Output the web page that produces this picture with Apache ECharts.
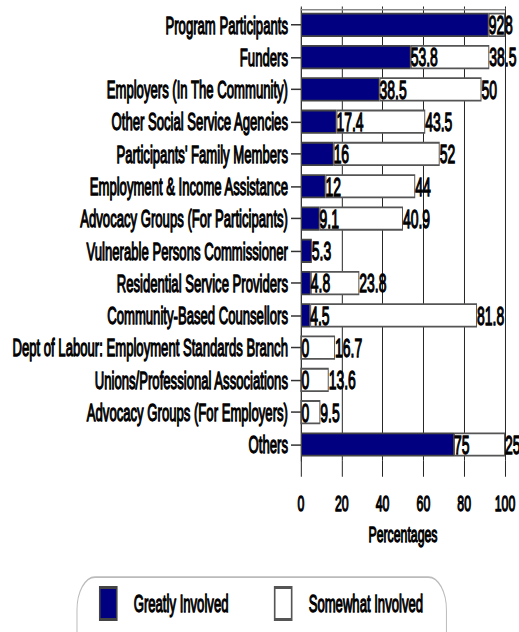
<!DOCTYPE html>
<html>
<head>
<meta charset="utf-8">
<script src="https://cdn.jsdelivr.net/npm/echarts@6/dist/echarts.min.js"></script>
<style>
  html, body { margin: 0; padding: 0; background: #fff; overflow: hidden; }
  #wrap { width: 519px; height: 632px; overflow: hidden; }
  /* laid out on a wider, shorter box, then squeezed horizontally and stretched vertically
     so the lettering comes out tall and condensed */
  #chart { width: 633px; height: 421px; transform-origin: 0 0; transform: scale(0.81991, 1.50119); }
</style>
</head>
<body>
<div id="wrap"><div id="chart"></div></div>
<script>
const categories = [
  'Program Participants',
  'Funders',
  'Employers (In The Community)',
  'Other Social Service Agencies',
  "Participants' Family Members",
  'Employment & Income Assistance',
  'Advocacy Groups (For Participants)',
  'Vulnerable Persons Commissioner',
  'Residential Service Providers',
  'Community-Based Counsellors',
  'Dept of Labour: Employment Standards Branch',
  'Unions/Professional Associations',
  'Advocacy Groups (For Employers)',
  'Others'
];
const greatlyInvolved = [92, 53.8, 38.5, 17.4, 16, 12, 9.1, 5.3, 4.8, 4.5, 0, 0, 0, 75];
const somewhatInvolved = [8, 38.5, 50, 43.5, 52, 44, 40.9, null, 23.8, 81.8, 16.7, 13.6, 9.5, 25];
const xTicks = [0, 20, 40, 60, 80, 100];

const FONT = "'Liberation Sans', Arial, sans-serif";
const heavy = { textBorderColor: '#000', textBorderWidth: 0.85 };

const chart = echarts.init(document.getElementById('chart'), null, { renderer: 'svg' });

const valueLabel = Object.assign({
  show: true,
  position: 'right',
  distance: 0,
  color: '#000',
  fontFamily: FONT,
  fontSize: 17,
  formatter: p => (p.value === null || p.value === undefined) ? '' : String(p.value)
}, heavy);

chart.setOption({
  animation: false,
  backgroundColor: '#fff',
  textStyle: { fontFamily: FONT },
  grid: { left: 367.1, right: 17.1, top: 5.8, bottom: 114.15, containLabel: false, outerBoundsMode: 'none' },
  xAxis: [
    {
      type: 'value',
      position: 'bottom',
      min: xTicks[0],
      max: xTicks[xTicks.length - 1],
      interval: 20,
      name: 'Percentages',
      nameLocation: 'middle',
      nameGap: 40,
      nameTextStyle: Object.assign({ color: '#000', fontFamily: FONT, fontSize: 15 }, heavy),
      axisLine: { show: true, lineStyle: { color: 'rgba(0,0,0,0)' } },
      axisTick: { show: true, length: 10.7, lineStyle: { color: '#222', width: 1.2 } },
      axisLabel: Object.assign({ color: '#000', fontFamily: FONT, fontSize: 15, margin: 21 }, heavy),
      splitLine: { show: true, lineStyle: { color: '#222', width: 1.2 } }
    },
    {
      type: 'value',
      position: 'top',
      min: xTicks[0],
      max: xTicks[xTicks.length - 1],
      interval: 20,
      axisLine: { show: true, lineStyle: { color: '#888', width: 1 } },
      axisTick: { show: true, length: 1.5, lineStyle: { color: '#222', width: 1.2 } },
      axisLabel: { show: false },
      splitLine: { show: false }
    }
  ],
  yAxis: {
    type: 'category',
    data: categories,
    inverse: true,
    axisLine: { show: true, lineStyle: { color: '#333', width: 1.2 } },
    axisTick: { show: true, length: 12.2, alignWithLabel: true, lineStyle: { color: '#333' } },
    axisLabel: Object.assign({ color: '#000', fontFamily: FONT, fontSize: 16, margin: 15.9 }, heavy),
    splitLine: { show: false }
  },
  legend: {
    left: 93.9,
    top: 384.4,
    orient: 'horizontal',
    icon: 'rect',
    itemWidth: 20.7,
    itemHeight: 21.3,
    itemGap: 54.9,
    padding: [6, 28, 40, 26.8],
    borderColor: '#bbb',
    borderWidth: 1.2,
    borderRadius: 22,
    backgroundColor: '#fff',
    textStyle: Object.assign({ color: '#000', fontFamily: FONT, fontSize: 16, padding: [0, 0, 0, 15.7] }, heavy),
    data: ['Greatly Involved', 'Somewhat Involved']
  },
  series: [
    {
      name: 'Greatly Involved',
      type: 'bar',
      stack: 'total',
      data: greatlyInvolved,
      barWidth: '75%',
      itemStyle: { color: '#000080', borderColor: '#444', borderWidth: 1.2 },
      label: valueLabel
    },
    {
      name: 'Somewhat Involved',
      type: 'bar',
      stack: 'total',
      data: somewhatInvolved,
      barWidth: '75%',
      itemStyle: { color: '#fff', borderColor: '#555', borderWidth: 1.2 },
      label: valueLabel
    }
  ]
});
</script>
</body>
</html>
